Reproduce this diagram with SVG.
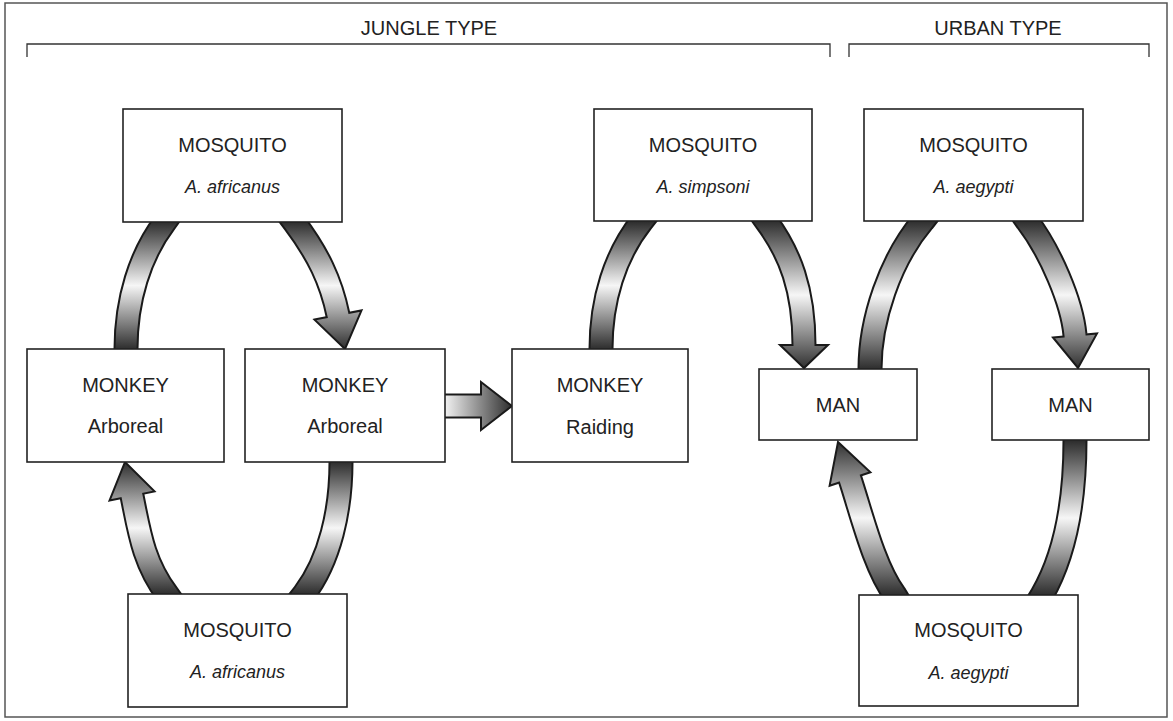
<svg xmlns="http://www.w3.org/2000/svg" xmlns:xlink="http://www.w3.org/1999/xlink" width="1173" height="721" viewBox="0 0 1173 721">
<style>
.frame{fill:#fff;stroke:#555;stroke-width:1.5}
.brk{fill:none;stroke:#333;stroke-width:1.3}
.box{fill:#fff;stroke:#222;stroke-width:1.6}
.t{font-family:"Liberation Sans",Arial,sans-serif;font-size:20px;fill:#222;text-anchor:middle}
.i{font-style:italic;font-size:18px}
.edge{fill:none;stroke:#1a1a1a;stroke-width:25}
.band{fill:none;stroke-width:21}
.head{stroke:#1a1a1a;stroke-width:2;stroke-linejoin:miter}
</style>
<defs>
<linearGradient id="gv">
<stop offset="0" stop-color="#2e2e2e"/>
<stop offset="0.5" stop-color="#f6f6f6"/>
<stop offset="1" stop-color="#2e2e2e"/>
</linearGradient>
<linearGradient id="gJT" xlink:href="#gv" gradientUnits="userSpaceOnUse" x1="0" y1="222" x2="0" y2="349"/>
<linearGradient id="gJB" xlink:href="#gv" gradientUnits="userSpaceOnUse" x1="0" y1="462" x2="0" y2="594"/>
<linearGradient id="gUT" xlink:href="#gv" gradientUnits="userSpaceOnUse" x1="0" y1="221" x2="0" y2="369"/>
<linearGradient id="gUB" xlink:href="#gv" gradientUnits="userSpaceOnUse" x1="0" y1="441" x2="0" y2="595"/>
<linearGradient id="gH" gradientUnits="userSpaceOnUse" x1="444" y1="0" x2="512" y2="0">
<stop offset="0" stop-color="#f4f4f4"/>
<stop offset="1" stop-color="#2e2e2e"/>
</linearGradient>
</defs>

<rect class="frame" x="5" y="3" width="1162" height="714"/>

<g id="brackets">
<path class="brk" d="M27,57 L27,44 L830,44 L830,57"/>
<path class="brk" d="M849,57 L849,44 L1149,44 L1149,57"/>
<text class="t" x="429" y="35">JUNGLE TYPE</text>
<text class="t" x="998" y="35">URBAN TYPE</text>
</g>

<g id="connectors">
<g id="c1">
<path class="edge" d="M126,362 L126,349 C126,300 140,255 165,222 L172,212"/>
<path class="band" stroke="url(#gJT)" d="M126,362 L126,349 C126,300 140,255 165,222 L172,212"/>
</g>
<g id="c2">
<path class="edge" d="M285,210 L294,222 C318,254 331,281 338,315"/>
<polygon class="head" fill="url(#gJT)" points="314.5,319.6 361.5,310.4 345,349"/>
<path class="band" stroke="url(#gJT)" d="M285,210 L294,222 C318,254 331,281 338,315 L338.6,318"/>
</g>
<g id="c3">
<path class="edge" d="M341,450 L341,462 C341,510 330,560 304,594 L297,603"/>
<path class="band" stroke="url(#gJB)" d="M341,450 L341,462 C341,510 330,560 304,594 L297,603"/>
</g>
<g id="c4">
<path class="edge" d="M174,604 L167,594 C143,562 139,530 132,496"/>
<polygon class="head" fill="url(#gJB)" points="109.5,500.6 154.5,491.4 125,462"/>
<path class="band" stroke="url(#gJB)" d="M174,604 L167,594 C143,562 139,530 132,496 L131.4,493"/>
</g>
<g id="c5">
<path class="edge" stroke-width="24" d="M436,406 L481,406"/>
<polygon class="head" fill="url(#gH)" points="481,382 512,406 481,430"/>
<path class="band" stroke-width="20" stroke="url(#gH)" d="M436,406 L484,406"/>
</g>
<g id="c6">
<path class="edge" d="M601,362 L601,349 C601,300 615,255 642,221 L649,212"/>
<path class="band" stroke="url(#gJT)" d="M601,362 L601,349 C601,300 615,255 642,221 L649,212"/>
</g>
<g id="c7">
<path class="edge" d="M759,211 L766,221 C790,253 804,290 804,345"/>
<polygon class="head" fill="url(#gUT)" points="780,345 828,345 804,368"/>
<path class="band" stroke="url(#gUT)" d="M759,211 L766,221 C790,253 804,290 804,345 L804,348"/>
</g>
<g id="c8">
<path class="edge" d="M870,381 L870,369 C870,320 890,260 923,221 L930,212"/>
<path class="band" stroke="url(#gUT)" d="M870,381 L870,369 C870,320 890,260 923,221 L930,212"/>
</g>
<g id="c9">
<path class="edge" d="M1020,211 L1027,221 C1050,251 1072,302 1075,335"/>
<polygon class="head" fill="url(#gUT)" points="1053,337.5 1097,333.5 1078,368"/>
<path class="band" stroke="url(#gUT)" d="M1020,211 L1027,221 C1050,251 1072,302 1075,335 L1075.3,338"/>
</g>
<g id="c10">
<path class="edge" d="M1075,428 L1075,440 C1075,500 1065,555 1042,595 L1036,605"/>
<path class="band" stroke="url(#gUB)" d="M1075,428 L1075,440 C1075,500 1065,555 1042,595 L1036,605"/>
</g>
<g id="c11">
<path class="edge" d="M901,605 L895,595 C874,567 861,512 850,479"/>
<polygon class="head" fill="url(#gUB)" points="829.6,485.7 870.4,472.3 838,442"/>
<path class="band" stroke="url(#gUB)" d="M901,605 L895,595 C874,567 861,512 850,479 L849,476"/>
</g>
</g>

<g id="nodes">
<g id="mosq-africanus-top">
<rect class="box" x="123" y="109" width="219" height="113"/>
<text class="t" x="232.5" y="152">MOSQUITO</text>
<text class="t i" x="232.5" y="193">A. africanus</text>
</g>
<g id="mosq-simpsoni">
<rect class="box" x="594" y="109" width="218" height="112"/>
<text class="t" x="703" y="152">MOSQUITO</text>
<text class="t i" x="703" y="193">A. simpsoni</text>
</g>
<g id="mosq-aegypti-top">
<rect class="box" x="864" y="109" width="219" height="112"/>
<text class="t" x="973.5" y="152">MOSQUITO</text>
<text class="t i" x="973.5" y="193">A. aegypti</text>
</g>
<g id="monkey-arboreal-left">
<rect class="box" x="27" y="349" width="197" height="113"/>
<text class="t" x="125.5" y="392">MONKEY</text>
<text class="t" x="125.5" y="433">Arboreal</text>
</g>
<g id="monkey-arboreal-mid">
<rect class="box" x="245" y="349" width="200" height="113"/>
<text class="t" x="345" y="392">MONKEY</text>
<text class="t" x="345" y="433">Arboreal</text>
</g>
<g id="monkey-raiding">
<rect class="box" x="512" y="349" width="176" height="113"/>
<text class="t" x="600" y="392">MONKEY</text>
<text class="t" x="600" y="434">Raiding</text>
</g>
<g id="man-left">
<rect class="box" x="759" y="369" width="158" height="71"/>
<text class="t" x="838" y="412">MAN</text>
</g>
<g id="man-right">
<rect class="box" x="992" y="369" width="157" height="71"/>
<text class="t" x="1070.5" y="412">MAN</text>
</g>
<g id="mosq-africanus-bottom">
<rect class="box" x="128" y="594" width="219" height="113"/>
<text class="t" x="237.5" y="637">MOSQUITO</text>
<text class="t i" x="237.5" y="678">A. africanus</text>
</g>
<g id="mosq-aegypti-bottom">
<rect class="box" x="859" y="595" width="219" height="111"/>
<text class="t" x="968.5" y="637">MOSQUITO</text>
<text class="t i" x="968.5" y="679">A. aegypti</text>
</g>
</g>
</svg>
